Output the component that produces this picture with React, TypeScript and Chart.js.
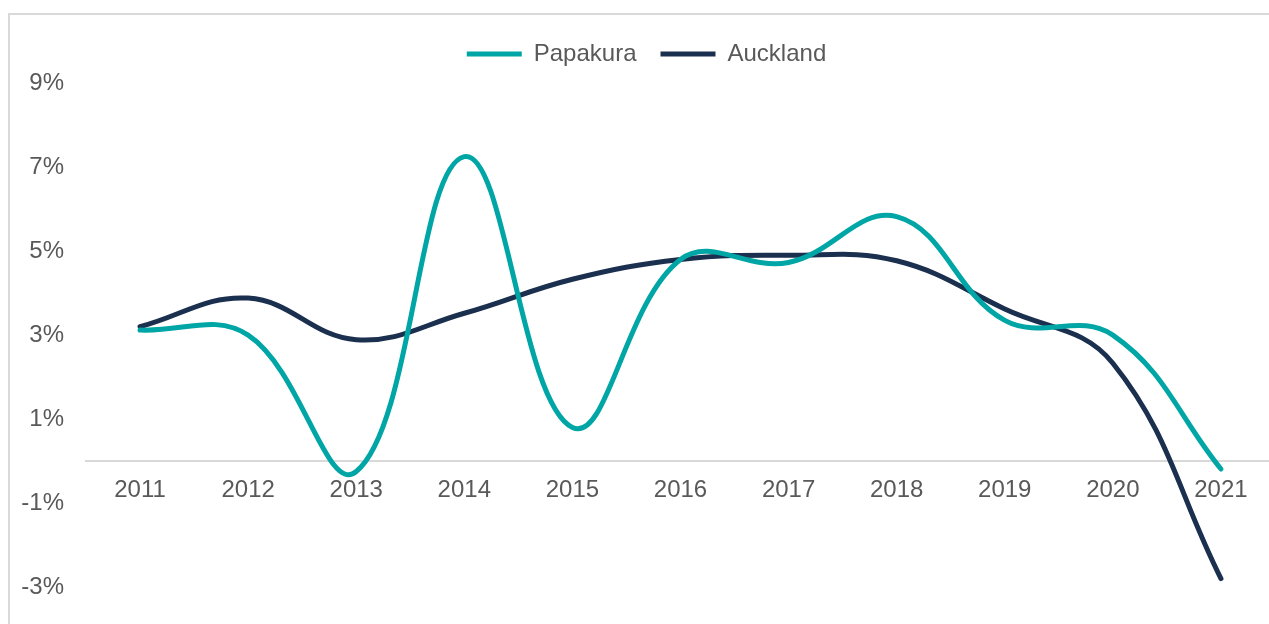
import React, { useEffect, useRef } from "react";
import { Chart, registerables } from "chart.js";

Chart.register(...registerables);

const years = ["2011", "2012", "2013", "2014", "2015", "2016", "2017", "2018", "2019", "2020", "2021"];
const papakura = [3.12, 3.0, -0.25, 7.25, 0.8, 4.8, 4.73, 5.82, 3.35, 3.0, -0.19];
const auckland = [3.2, 3.88, 2.89, 3.52, 4.33, 4.8, 4.9, 4.77, 3.62, 2.33, -2.8];
const yTicks = [-3, -1, 1, 3, 5, 7, 9];

const TEAL = "#00A6A6";
const NAVY = "#1B2F4E";
const TEXT = "#595959";
const FONT = "'Liberation Sans', Arial, sans-serif";

export default function App() {
  const ref = useRef<HTMLCanvasElement | null>(null);

  useEffect(() => {
    if (!ref.current) return;
    const chart = new Chart(ref.current, {
      type: "line",
      data: {
        labels: years,
        datasets: [
          {
            label: "Papakura",
            data: papakura,
            borderColor: TEAL,
            backgroundColor: TEAL,
            borderWidth: 5,
            borderCapStyle: "round",
            pointRadius: 0,
            tension: 0.4,
          },
          {
            label: "Auckland",
            data: auckland,
            borderColor: NAVY,
            backgroundColor: NAVY,
            borderWidth: 5,
            borderCapStyle: "round",
            pointRadius: 0,
            tension: 0.4,
          },
        ],
      },
      options: {
        animation: false,
        responsive: false,
        maintainAspectRatio: false,
        layout: { padding: { top: 18, bottom: 37, left: 18, right: 15 } },
        plugins: {
          tooltip: { enabled: false },
          legend: {
            position: "top",
            align: "center",
            labels: {
              usePointStyle: true,
              pointStyle: "line",
              pointStyleWidth: 55,
              padding: 24,
              color: TEXT,
              font: { family: FONT, size: 24 },
            },
          },
        },
        scales: {
          x: {
            type: "category",
            offset: true,
            position: { y: 0 } as any,
            grid: { display: false, drawTicks: false },
            border: { display: true, color: "#d9d9d9", width: 2 },
            ticks: {
              color: TEXT,
              font: { family: FONT, size: 24 },
              padding: 15,
              maxRotation: 0,
              autoSkip: false,
            },
          },
          y: {
            min: -3,
            max: 9.17,
            grid: { display: false, drawTicks: false },
            border: { display: false },
            afterBuildTicks: (scale: any) => {
              scale.ticks = yTicks.map((v) => ({ value: v }));
            },
            afterFit: (scale: any) => {
              scale.width = 68;
            },
            ticks: {
              color: TEXT,
              font: { family: FONT, size: 24 },
              padding: 22,
              callback: (v: any) => `${v}%`,
            },
          },
        },
      },
    });
    return () => chart.destroy();
  }, []);

  return (
    <div style={{ position: "fixed", left: 0, top: 0, width: 1269, height: 624, overflow: "hidden", background: "#fff" }}>
      <div
        style={{
          position: "absolute",
          left: 8,
          top: 13,
          width: 2000,
          height: 2000,
          borderLeft: "2px solid #d9d9d9",
          borderTop: "2px solid #d9d9d9",
        }}
      />
      <canvas
        ref={ref}
        width={1290}
        height={624}
        style={{ position: "absolute", left: 0, top: 0, width: 1290, height: 624 }}
      />
    </div>
  );
}
